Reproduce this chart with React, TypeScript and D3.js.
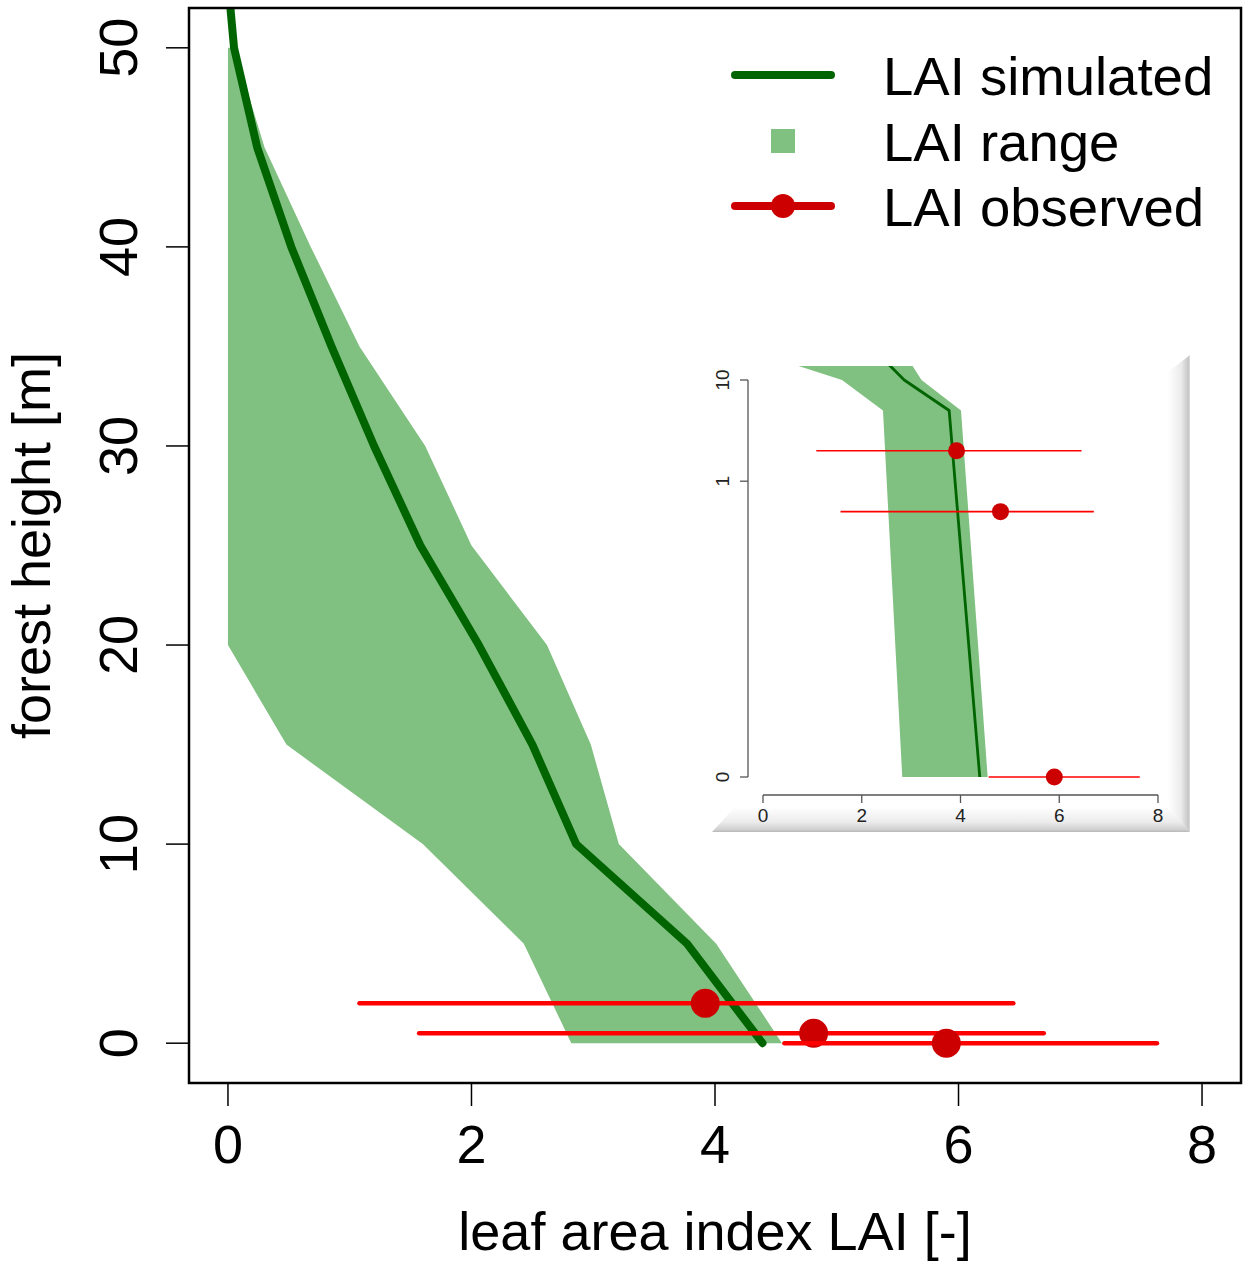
import React from "react";
import * as d3 from "d3";

// ---- data ----
const heights = [0, 5, 10, 15, 20, 25, 30, 35, 40, 45, 50, 52];
const laiSimulated = [4.39, 3.77, 2.86, 2.5, 2.06, 1.58, 1.2, 0.85, 0.52, 0.24, 0.05, 0.02];
const rangeHeights = [0, 5, 10, 15, 20, 25, 30, 35, 40, 45, 50];
const laiRangeLow = [2.82, 2.43, 1.6, 0.48, 0.0, 0.0, 0.0, 0.0, 0.0, 0.0, 0.0];
const laiRangeHigh = [4.55, 4.01, 3.21, 2.98, 2.62, 2.0, 1.62, 1.08, 0.68, 0.3, 0.05];
const obsHeight = [2, 0.5, 0];
const obsLAI = [3.92, 4.81, 5.9];
const obsMin = [1.08, 1.57, 4.57];
const obsMax = [6.45, 6.7, 7.63];
const xTicks = [0, 2, 4, 6, 8];
const yTicks = [0, 10, 20, 30, 40, 50];
const insetYTicks = [0, 1, 10];
const insetXTicks = [0, 2, 4, 6, 8];
const insetZero = 0.0012; // offset used to place height 0 on the log inset axis
const legendLabels = ["LAI simulated", "LAI range", "LAI observed"];

const FONT = "'Liberation Sans', Arial, sans-serif";
const DARK_GREEN = "#006400";
const BAND = "#80c080";
const RED_LINE = "#ff0000";
const RED_PT = "#cc0000";

export default function App() {
  // main panel
  const L = 189, R = 1241, T = 8, B = 1083;
  const x = d3.scaleLinear().domain([-0.32, 8.32]).range([L, R]);
  const y = d3.scaleLinear().domain([-2, 52]).range([B, T]);

  const bandPts: [number, number][] = [
    ...rangeHeights.map((h, i) => [laiRangeLow[i], h] as [number, number]),
    ...rangeHeights.map((h, i) => [laiRangeHigh[i], h] as [number, number]).reverse(),
  ];
  const bandPath = d3.line<[number, number]>().x(d => x(d[0])).y(d => y(d[1]))(bandPts) + "Z";
  const simPath = d3.line<number>().x((d, i) => x(laiSimulated[i])).y(d => y(d))(heights);

  // inset panel
  const iL = 748, iR = 1174, iT = 366, iB = 795;
  const xi = d3.scaleLinear().domain([0, 8]).range([763, 1158]);
  const yiLog = d3.scaleLog().domain([insetZero, 10]).range([777, 380]);
  const yi = (h: number) => yiLog(h + insetZero);
  const bandPathI = d3.line<[number, number]>().x(d => xi(d[0])).y(d => yi(d[1]))(bandPts) + "Z";
  const simPathI = d3.line<number>().x((d, i) => xi(laiSimulated[i])).y(d => yi(d))(heights);

  const fL = 712, fR = 1190, fT = 355, fB = 832;

  return (
    <svg width={1250} height={1270} style={{ position: "absolute", left: 0, top: 0, background: "#fff" }}
      fontFamily={FONT}>
      <defs>
        <clipPath id="mainClip"><rect x={L} y={T} width={R - L} height={B - T} /></clipPath>
        <clipPath id="insetClip"><rect x={iL} y={iT} width={iR - iL} height={iB - iT} /></clipPath>
        <linearGradient id="gRight" x1="0" x2="1" y1="0" y2="0">
          <stop offset="0" stopColor="#ffffff" />
          <stop offset="0.6" stopColor="#ebebeb" />
          <stop offset="0.92" stopColor="#c6c6c6" />
          <stop offset="1" stopColor="#dcdcdc" />
        </linearGradient>
        <linearGradient id="gBottom" x1="0" x2="0" y1="0" y2="1">
          <stop offset="0" stopColor="#ffffff" />
          <stop offset="0.6" stopColor="#ececec" />
          <stop offset="0.9" stopColor="#d0d0d0" />
          <stop offset="1" stopColor="#b8b8b8" />
        </linearGradient>
      </defs>
      <rect x={0} y={0} width={1250} height={1270} fill="#fff" />

      {/* main plot */}
      <g clipPath="url(#mainClip)">
        <path d={bandPath} fill={BAND} />
        <path d={simPath!} fill="none" stroke={DARK_GREEN} strokeWidth={8} strokeLinecap="round" strokeLinejoin="round" />
        {obsLAI.map((v, i) => (
          <g key={i}>
            <line x1={x(obsMin[i])} x2={x(obsMax[i])} y1={y(obsHeight[i])} y2={y(obsHeight[i])}
              stroke={RED_LINE} strokeWidth={4.5} strokeLinecap="round" />
            <circle cx={x(v)} cy={y(obsHeight[i])} r={14.5} fill={RED_PT} />
          </g>
        ))}
      </g>
      <rect x={L} y={T} width={R - L} height={B - T} fill="none" stroke="#000" strokeWidth={2.5} />

      {/* x axis */}
      {xTicks.map(t => (
        <g key={"xt" + t}>
          <line x1={x(t)} x2={x(t)} y1={B} y2={B + 23} stroke="#000" strokeWidth={1.5} />
          <text x={x(t)} y={1163} textAnchor="middle" fontSize={54}>{t}</text>
        </g>
      ))}
      <text x={(L + R) / 2} y={1250} textAnchor="middle" fontSize={54}>leaf area index LAI [-]</text>

      {/* y axis */}
      {yTicks.map(t => (
        <g key={"yt" + t}>
          <line x1={L - 23} x2={L} y1={y(t)} y2={y(t)} stroke="#000" strokeWidth={1.5} />
          <text transform={`translate(137,${y(t)}) rotate(-90)`} textAnchor="middle" fontSize={54}>{t}</text>
        </g>
      ))}
      <text transform={`translate(50,${(T + B) / 2}) rotate(-90)`} textAnchor="middle" fontSize={54}>forest height [m]</text>

      {/* legend */}
      <line x1={735} x2={831} y1={75} y2={75} stroke={DARK_GREEN} strokeWidth={8} strokeLinecap="round" />
      <rect x={771} y={129} width={24} height={24} fill={BAND} />
      <line x1={735} x2={831} y1={206} y2={206} stroke={RED_PT} strokeWidth={8} strokeLinecap="round" />
      <circle cx={783} cy={206} r={12} fill={RED_PT} />
      {legendLabels.map((lab, i) => (
        <text key={lab} x={883} y={95 + i * 65.5} fontSize={54.5}>{lab}</text>
      ))}

      {/* inset picture */}
      <rect x={fL} y={fT} width={fR - fL} height={fB - fT} fill="#fff" />
      <polygon points={`${fL},${fB} ${fL + 23},${fB - 25} ${fR - 22},${fB - 25} ${fR},${fB}`} fill="url(#gBottom)" />
      <polygon points={`${fR - 22},${fT + 17} ${fR},${fT} ${fR},${fB} ${fR - 22},${fB - 25}`} fill="url(#gRight)" />

      <g clipPath="url(#insetClip)">
        <path d={bandPathI} fill={BAND} />
        <path d={simPathI!} fill="none" stroke={DARK_GREEN} strokeWidth={2.8} strokeLinejoin="round" />
      </g>
      {obsLAI.map((v, i) => (
        <g key={"io" + i}>
          <line x1={xi(obsMin[i])} x2={xi(obsMax[i])} y1={yi(obsHeight[i])} y2={yi(obsHeight[i])}
            stroke={RED_LINE} strokeWidth={1.6} />
          <circle cx={xi(v)} cy={yi(obsHeight[i])} r={8.5} fill={RED_PT} />
        </g>
      ))}
      {/* inset axes */}
      <line x1={iL} x2={iL} y1={yi(10)} y2={yi(0)} stroke="#555" strokeWidth={1.3} />
      {insetYTicks.map(t => (
        <g key={"iyt" + t}>
          <line x1={iL - 8} x2={iL} y1={yi(t)} y2={yi(t)} stroke="#555" strokeWidth={1.3} />
          <text transform={`translate(729,${yi(t)}) rotate(-90)`} textAnchor="middle" fontSize={19} fill="#222">{t}</text>
        </g>
      ))}
      <line x1={xi(0)} x2={xi(8)} y1={iB} y2={iB} stroke="#555" strokeWidth={1.3} />
      {insetXTicks.map(t => (
        <g key={"ixt" + t}>
          <line x1={xi(t)} x2={xi(t)} y1={iB} y2={iB + 8} stroke="#555" strokeWidth={1.3} />
          <text x={xi(t)} y={822} textAnchor="middle" fontSize={19} fill="#222">{t}</text>
        </g>
      ))}
    </svg>
  );
}
